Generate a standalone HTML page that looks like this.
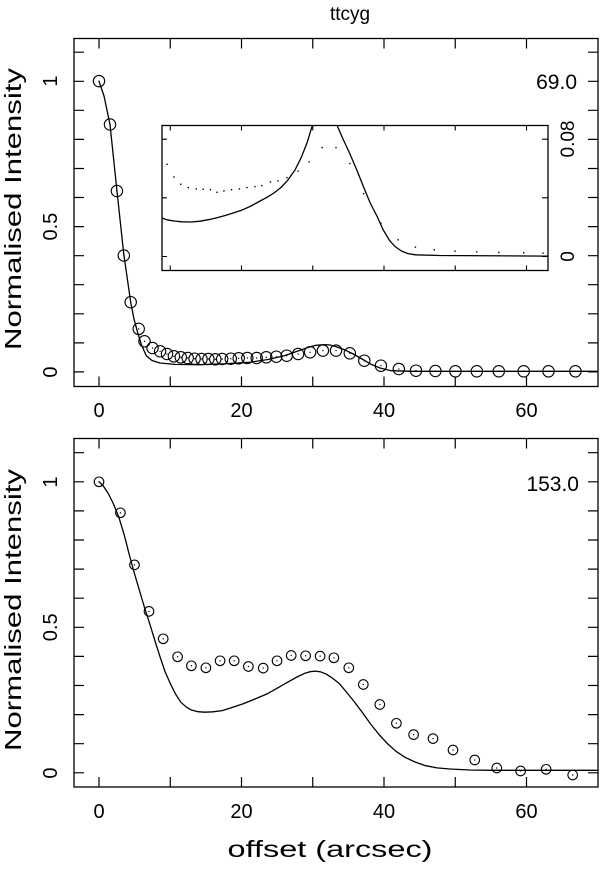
<!DOCTYPE html>
<html><head><meta charset="utf-8"><style>
html,body{margin:0;padding:0;background:#fff;width:600px;height:875px;overflow:hidden}
text{font-family:"Liberation Sans",sans-serif;fill:#000}
</style></head><body>
<svg width="600" height="875" viewBox="0 0 600 875" xmlns="http://www.w3.org/2000/svg" xmlns:xlink="http://www.w3.org/1999/xlink">
<defs>
<clipPath id="ci"><rect x="162" y="125.5" width="386" height="145"/></clipPath>
<g id="ct"><circle cx="0" cy="0" r="5.7" fill="none" stroke="#000" stroke-width="1.1"/><rect x="-0.6" y="-0.6" width="1.2" height="1.2" fill="#000"/></g>
<g id="cb"><circle cx="0" cy="0" r="4.8" fill="none" stroke="#000" stroke-width="1.1"/><rect x="-0.6" y="-0.6" width="1.2" height="1.2" fill="#000"/></g>
<rect id="dt" x="-0.7" y="-0.7" width="1.4" height="1.4" fill="#000"/>
</defs>
<text x="350" y="20" font-size="19" text-anchor="middle">ttcyg</text>

<!-- TOP PANEL -->
<rect x="74" y="38.5" width="524" height="348" fill="none" stroke="#000" stroke-width="1.3"/>
<g stroke="#000" stroke-width="1.2">
<path d="M99 38.5v10M170.25 38.5v10M241.5 38.5v10M312.75 38.5v10M384 38.5v10M455.25 38.5v10M526.5 38.5v10
M99 386.5v-10M170.25 386.5v-10M241.5 386.5v-10M312.75 386.5v-10M384 386.5v-10M455.25 386.5v-10M526.5 386.5v-10
M74 52.2h10M74 81.3h10M74 110.3h10M74 139.4h10M74 168.5h10M74 197.5h10M74 226.6h10M74 255.7h10M74 284.7h10M74 313.8h10M74 342.9h10M74 371.9h10
M598 52.2h-10M598 81.3h-10M598 110.3h-10M598 139.4h-10M598 168.5h-10M598 197.5h-10M598 226.6h-10M598 255.7h-10M598 284.7h-10M598 313.8h-10M598 342.9h-10M598 371.9h-10"/>
</g>
<g font-size="20" text-anchor="middle">
<text x="99" y="417">0</text><text x="241.5" y="417">20</text><text x="384" y="417">40</text><text x="526.5" y="417">60</text>
</g>
<g font-size="20" text-anchor="middle">
<text transform="translate(57,81) rotate(-90)">1</text>
<text transform="translate(57,226.6) rotate(-90)">0.5</text>
<text transform="translate(57,372) rotate(-90)">0</text>
</g>
<text transform="translate(21,209) rotate(-90)" font-size="23" text-anchor="middle" textLength="282" lengthAdjust="spacingAndGlyphs">Normalised Intensity</text>
<text x="577" y="89" font-size="21" text-anchor="end">69.0</text>

<polyline fill="none" stroke="#000" stroke-width="1.3" stroke-linejoin="round" points="99,81.1 104,96 110,124.5 116.9,190.3 123.8,254.4 130.7,302.2 134,319 137.6,332.3 141.5,345 146.3,355.7 152,360.5 160,363 175,364.4 198,364.7 225,363.8 249.8,362.3 268,359.5 284.3,355.7 298,351 308.4,347.3 316,345.3 324,344.6 330,345 336,346.6 345,350 353.3,354 362,359 370.5,364 380,368 391.2,370.7 412,371.3 598,371.3"/>
<g>
<use xlink:href="#ct" x="99" y="81.1"/><use xlink:href="#ct" x="110" y="124.5"/><use xlink:href="#ct" x="116.9" y="191"/><use xlink:href="#ct" x="123.8" y="255.5"/><use xlink:href="#ct" x="130.7" y="302.2"/><use xlink:href="#ct" x="138.7" y="328.9"/><use xlink:href="#ct" x="144.5" y="341.3"/><use xlink:href="#ct" x="152.5" y="348"/><use xlink:href="#ct" x="160.1" y="351.3"/><use xlink:href="#ct" x="167" y="354"/><use xlink:href="#ct" x="173.9" y="356.3"/><use xlink:href="#ct" x="180.8" y="357.3"/><use xlink:href="#ct" x="187.7" y="358"/><use xlink:href="#ct" x="194.6" y="358.7"/><use xlink:href="#ct" x="201.5" y="359"/><use xlink:href="#ct" x="208.4" y="359"/><use xlink:href="#ct" x="215.3" y="359.3"/><use xlink:href="#ct" x="222.2" y="359"/><use xlink:href="#ct" x="230.8" y="358.7"/><use xlink:href="#ct" x="238.7" y="358.3"/><use xlink:href="#ct" x="247.3" y="358"/><use xlink:href="#ct" x="256.7" y="358"/><use xlink:href="#ct" x="266.3" y="357.3"/><use xlink:href="#ct" x="276.3" y="356.7"/><use xlink:href="#ct" x="286.7" y="355.7"/><use xlink:href="#ct" x="298.1" y="354"/><use xlink:href="#ct" x="310.1" y="352.3"/><use xlink:href="#ct" x="322.9" y="350.6"/><use xlink:href="#ct" x="336" y="350.6"/><use xlink:href="#ct" x="349.8" y="353.3"/><use xlink:href="#ct" x="364.3" y="360.7"/><use xlink:href="#ct" x="380.9" y="365.7"/><use xlink:href="#ct" x="398.8" y="369"/><use xlink:href="#ct" x="416" y="370.7"/><use xlink:href="#ct" x="435.4" y="371"/><use xlink:href="#ct" x="455.4" y="371.3"/><use xlink:href="#ct" x="476.8" y="371.3"/><use xlink:href="#ct" x="498.8" y="371.3"/><use xlink:href="#ct" x="523.7" y="371.3"/><use xlink:href="#ct" x="548.5" y="371.3"/><use xlink:href="#ct" x="575.4" y="371.3"/>
</g>

<!-- inset -->
<rect x="162" y="125.5" width="386" height="145" fill="#fff" stroke="#000" stroke-width="1.3"/>
<g stroke="#000" stroke-width="1.1">
<path d="M170.25 125.5v5M241.5 125.5v5M312.75 125.5v5M384 125.5v5M455.25 125.5v5M526.5 125.5v5
M170.25 270.5v-5M241.5 270.5v-5M312.75 270.5v-5M384 270.5v-5M455.25 270.5v-5M526.5 270.5v-5
M548 139.2h-6M548 197.8h-6M548 256.5h-6M162 139.2h5M162 197.8h5M162 256.5h5"/>
</g>
<g font-size="19" text-anchor="middle">
<text transform="translate(574,139) rotate(-90)">0.08</text>
<text transform="translate(574,256.5) rotate(-90)">0</text>
</g>
<g clip-path="url(#ci)">
<polyline fill="none" stroke="#000" stroke-width="1.3" stroke-linejoin="round" points="162,218 167,219.8 173.9,221 182,221.8 191.1,222 200,221.2 208.4,219.7 217,217.8 225.6,215.4 234,212.8 242.9,209.7 251,206 260.1,201 267,197.3 273.9,193 281,187.5 287.7,180.3 295,170 301.5,156.9 307,143 311.9,126.9 318,112 326,106 334,112 337.7,126.9 343,139 349.8,153.6 357,170.5 363.6,187 370,202.5 377.4,217 383,229.5 389.5,240.4 395,246.5 401.6,251.1 408,253.6 415.4,254.8 439.5,255.5 548,256.1"/>
</g>
<g>
<use xlink:href="#dt" x="167" y="164.3"/><use xlink:href="#dt" x="173.9" y="177"/><use xlink:href="#dt" x="180.8" y="184.3"/><use xlink:href="#dt" x="188.3" y="187.6"/><use xlink:href="#dt" x="196.3" y="189"/><use xlink:href="#dt" x="203.2" y="189.3"/><use xlink:href="#dt" x="210.4" y="189.7"/><use xlink:href="#dt" x="217" y="192.3"/><use xlink:href="#dt" x="223.9" y="191"/><use xlink:href="#dt" x="231.5" y="189.7"/><use xlink:href="#dt" x="239.4" y="189"/><use xlink:href="#dt" x="247" y="187.6"/><use xlink:href="#dt" x="254.9" y="186.6"/><use xlink:href="#dt" x="261.8" y="185.6"/><use xlink:href="#dt" x="270.5" y="182"/><use xlink:href="#dt" x="278" y="181"/><use xlink:href="#dt" x="287" y="177.6"/><use xlink:href="#dt" x="298.1" y="171"/><use xlink:href="#dt" x="309.1" y="161.9"/><use xlink:href="#dt" x="322.2" y="147.6"/><use xlink:href="#dt" x="336" y="147.6"/><use xlink:href="#dt" x="349.8" y="163.6"/><use xlink:href="#dt" x="363.6" y="193.7"/><use xlink:href="#dt" x="380.9" y="223.1"/><use xlink:href="#dt" x="398.1" y="239.8"/><use xlink:href="#dt" x="415.4" y="247.1"/><use xlink:href="#dt" x="434.3" y="249.8"/><use xlink:href="#dt" x="455" y="251.1"/><use xlink:href="#dt" x="476.8" y="251.8"/><use xlink:href="#dt" x="498.8" y="252.4"/><use xlink:href="#dt" x="523.7" y="252.8"/><use xlink:href="#dt" x="543" y="253.1"/>
</g>

<!-- BOTTOM PANEL -->
<rect x="74" y="438.5" width="524" height="348.5" fill="none" stroke="#000" stroke-width="1.3"/>
<g stroke="#000" stroke-width="1.2">
<path d="M99 438.5v10M170.25 438.5v10M241.5 438.5v10M312.75 438.5v10M384 438.5v10M455.25 438.5v10M526.5 438.5v10
M99 787v-10M170.25 787v-10M241.5 787v-10M312.75 787v-10M384 787v-10M455.25 787v-10M526.5 787v-10
M74 452.7h10M74 481.8h10M74 510.9h10M74 540h10M74 569.1h10M74 598.2h10M74 627.3h10M74 656.4h10M74 685.5h10M74 714.6h10M74 743.7h10M74 772.8h10
M598 452.7h-10M598 481.8h-10M598 510.9h-10M598 540h-10M598 569.1h-10M598 598.2h-10M598 627.3h-10M598 656.4h-10M598 685.5h-10M598 714.6h-10M598 743.7h-10M598 772.8h-10"/>
</g>
<g font-size="20" text-anchor="middle">
<text x="99" y="818">0</text><text x="241.5" y="818">20</text><text x="384" y="818">40</text><text x="526.5" y="818">60</text>
</g>
<g font-size="20" text-anchor="middle">
<text transform="translate(57,482) rotate(-90)">1</text>
<text transform="translate(57,627.3) rotate(-90)">0.5</text>
<text transform="translate(57,773) rotate(-90)">0</text>
</g>
<text transform="translate(21,610) rotate(-90)" font-size="23" text-anchor="middle" textLength="282" lengthAdjust="spacingAndGlyphs">Normalised Intensity</text>
<text x="579" y="491" font-size="21" text-anchor="end">153.0</text>
<text x="330" y="857" font-size="23" text-anchor="middle" textLength="205" lengthAdjust="spacingAndGlyphs">offset (arcsec)</text>

<polyline fill="none" stroke="#000" stroke-width="1.3" stroke-linejoin="round" points="99,481.8 103,485.5 108.3,493.5 113.5,504 118.7,516.8 124,534 129,553.6 134,572 139.4,590.3 144.5,607.5 149.7,623.7 155,641 160.1,657.1 165,671.5 170.4,683.8 175.5,694 180.8,702.2 186,706.8 191.1,709.9 198,711.7 204.9,712.2 213,711.8 222.2,710.6 232,707.5 242.9,703.9 255,699 267,693.9 277,688.3 287.7,682.2 297,677 305,673.2 310,671.7 315.3,671.1 320.5,671.8 325.7,673.8 332,677.8 339.5,683.8 346,691.5 353.3,700.5 362,712 370.5,723.9 379,734.5 387.8,744 396,751.3 405,757.3 415,762 425.7,765.7 437,767.9 449.9,769 470,770 491.3,770.3 598,770.3"/>
<g>
<use xlink:href="#cb" x="99" y="481.8"/><use xlink:href="#cb" x="120.4" y="512.8"/><use xlink:href="#cb" x="134.5" y="564.9"/><use xlink:href="#cb" x="149" y="611.4"/><use xlink:href="#cb" x="163.2" y="638.8"/><use xlink:href="#cb" x="177.6" y="656.8"/><use xlink:href="#cb" x="191.4" y="665.8"/><use xlink:href="#cb" x="205.9" y="667.8"/><use xlink:href="#cb" x="220.1" y="660.8"/><use xlink:href="#cb" x="234.2" y="660.8"/><use xlink:href="#cb" x="248.4" y="666.5"/><use xlink:href="#cb" x="263.2" y="668.1"/><use xlink:href="#cb" x="277" y="660.8"/><use xlink:href="#cb" x="291.2" y="655.5"/><use xlink:href="#cb" x="305.6" y="655.8"/><use xlink:href="#cb" x="320.1" y="656.1"/><use xlink:href="#cb" x="333.9" y="657.8"/><use xlink:href="#cb" x="348.8" y="667.8"/><use xlink:href="#cb" x="363.3" y="684.5"/><use xlink:href="#cb" x="379.8" y="704.5"/><use xlink:href="#cb" x="396.4" y="723.3"/><use xlink:href="#cb" x="413.6" y="734.6"/><use xlink:href="#cb" x="433" y="738.6"/><use xlink:href="#cb" x="453" y="750"/><use xlink:href="#cb" x="474.7" y="760"/><use xlink:href="#cb" x="496.8" y="768"/><use xlink:href="#cb" x="520.6" y="771"/><use xlink:href="#cb" x="546.1" y="769.3"/><use xlink:href="#cb" x="572.7" y="775"/>
</g>
</svg>
</body></html>
